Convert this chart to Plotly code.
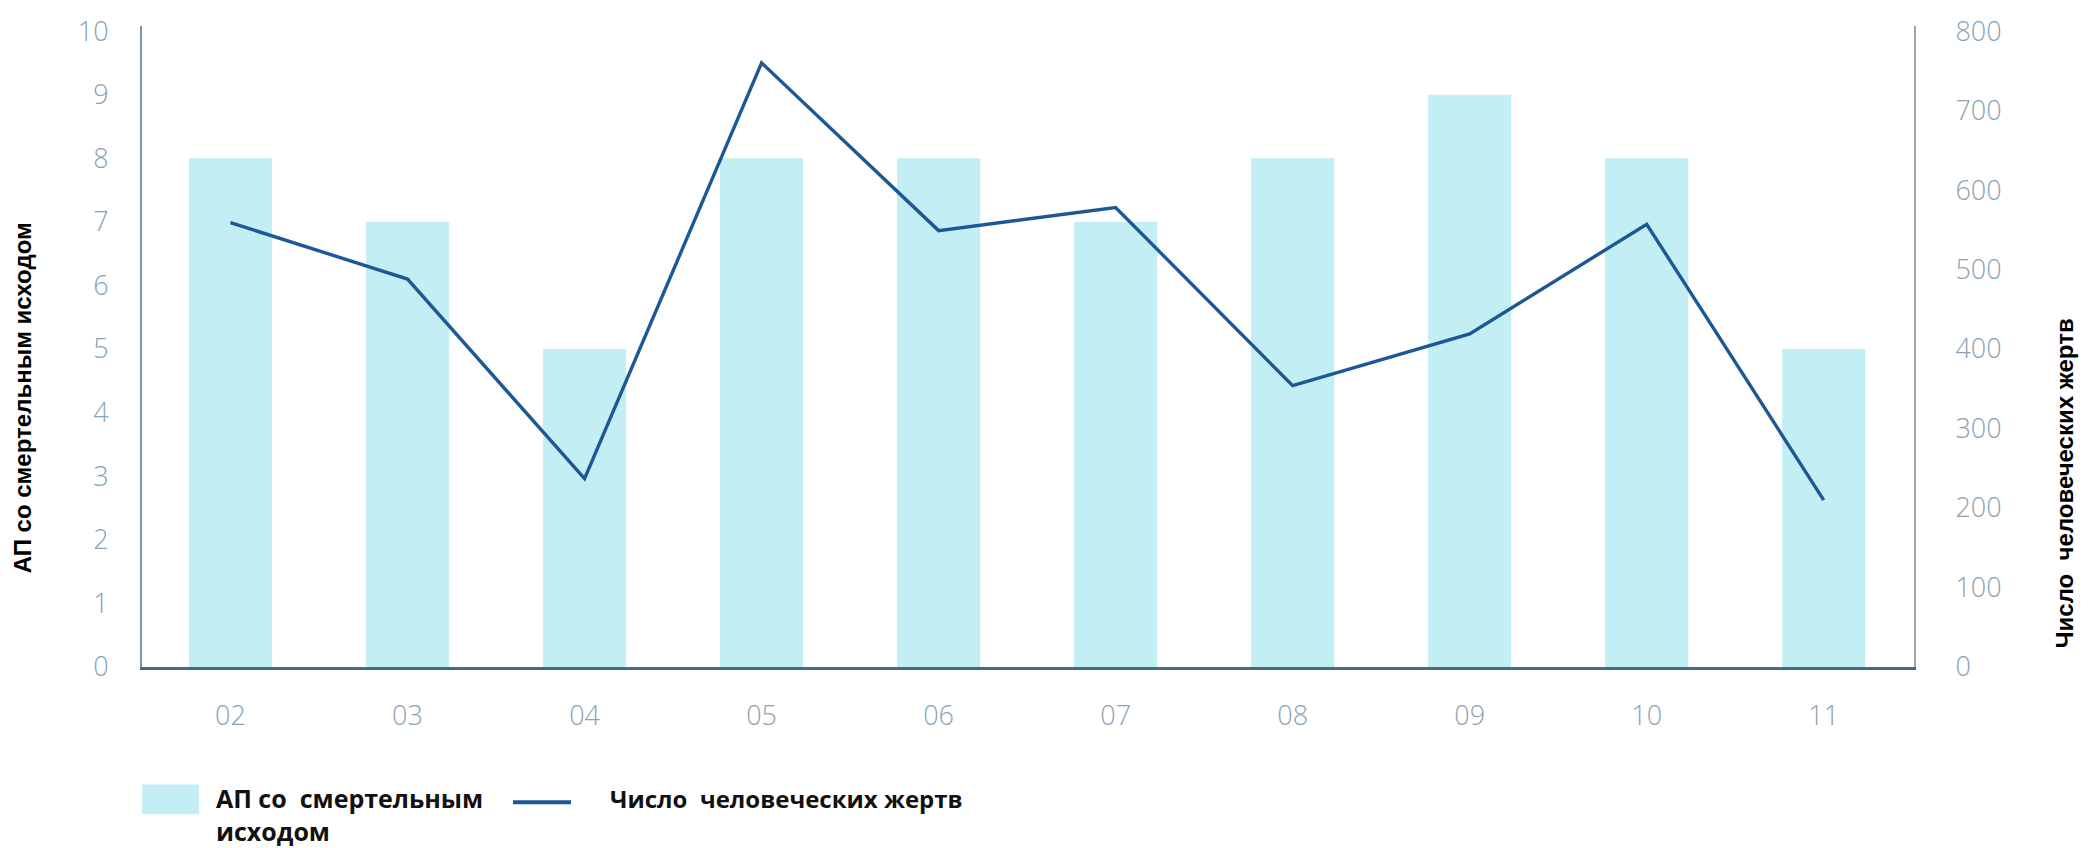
import plotly.graph_objects as go

# ---- data ----
years = ["02", "03", "04", "05", "06", "07", "08", "09", "10", "11"]
accidents = [8, 7, 5, 8, 8, 7, 8, 9, 8, 5]          # АП со смертельным исходом (left axis)
victims = [559, 488, 237, 760, 549, 578, 354, 419, 557, 210]  # Число человеческих жертв (right axis)
left_ticks = list(range(0, 11))
right_ticks = list(range(0, 801, 100))

bar_name = "АП со  смертельным исходом"
line_name = "Число  человеческих жертв"

# ---- layout geometry (pixels) ----
W, H = 2090, 848
L, R, T, B = 142, 176, 18, 181
PW = W - L - R
PH = H - T - B


def xp(px):
    return (px - L) / PW


def yp(py):
    return (H - B - py) / PH


BAR_COLOR = "#c3eef4"
LINE_COLOR = "#1d5896"
TICK_COLOR = "#8aa2b3"
NB = "\u00a0"

fig = go.Figure()
fig.add_trace(go.Bar(
    x=years, y=accidents, name=bar_name,
    marker=dict(color=BAR_COLOR, line=dict(width=0)),
    width=0.47, yaxis="y",
))
fig.add_trace(go.Scatter(
    x=years, y=victims, name=line_name, mode="lines",
    line=dict(color=LINE_COLOR, width=3.4), yaxis="y2",
))

tickfont = dict(family="Open Sans, Lato, sans-serif", size=27, color=TICK_COLOR, weight=300)

fig.update_layout(
    width=W, height=H,
    margin=dict(l=L, r=R, t=T, b=B, pad=0),
    paper_bgcolor="white", plot_bgcolor="white",
    showlegend=False,
    xaxis=dict(
        type="category", range=[-0.5, 9.51],
        showline=True, linecolor="#3f6d8e", linewidth=2.5,
        showgrid=False, zeroline=False, ticks="",
        tickfont=tickfont, ticklabelstandoff=23,
    ),
    yaxis=dict(
        range=[0, 10.08], tickvals=left_ticks,
        showline=True, linecolor="#7f95a5", linewidth=2,
        showgrid=False, zeroline=False, ticks="",
        tickfont=tickfont, ticklabelstandoff=26,
    ),
    yaxis2=dict(
        range=[0, 806.4], tickvals=right_ticks, overlaying="y", side="right",
        showline=True, linecolor="#9aa7b0", linewidth=2,
        showgrid=False, zeroline=False, ticks="",
        tickfont=tickfont, ticklabelstandoff=34,
    ),
)

title_font = dict(family="Liberation Sans, Arial, sans-serif",
                  size=24, color="black", weight="bold")
legend_font = dict(family="Open Sans, Liberation Sans, sans-serif", size=25, color="#111111",
                   weight="bold")

annotations = [
    dict(text="АП со смертельным исходом", xref="paper", yref="paper",
         x=xp(22), y=yp(395), textangle=-90, showarrow=False,
         xanchor="center", yanchor="middle", font=title_font),
    dict(text="Число" + NB + " человеческих жертв", xref="paper", yref="paper",
         x=xp(2064), y=yp(481), textangle=-90, showarrow=False,
         xanchor="center", yanchor="middle", font=title_font),
    dict(text="АП со" + NB + " смертельным<br>исходом", xref="paper", yref="paper",
         x=xp(214), y=yp(780), showarrow=False, align="left",
         xanchor="left", yanchor="top", font=legend_font),
    dict(text="Число" + NB + " человеческих жертв", xref="paper", yref="paper",
         x=xp(608), y=yp(800), showarrow=False, align="left",
         xanchor="left", yanchor="middle",
         font=dict(legend_font, size=24)),
]

shapes = [
    dict(type="rect", xref="paper", yref="paper",
         x0=xp(142), x1=xp(199), y0=yp(816), y1=yp(786),
         fillcolor=BAR_COLOR, line=dict(width=0)),
    dict(type="line", xref="paper", yref="paper",
         x0=xp(513), x1=xp(571), y0=yp(804), y1=yp(804),
         line=dict(color=LINE_COLOR, width=4)),
]

fig.update_layout(annotations=annotations, shapes=shapes)

fig.write_html(
    "out.html",
    config={"displayModeBar": False},
    post_script="document.body.style.margin='0';document.body.style.overflow='hidden';",
)
